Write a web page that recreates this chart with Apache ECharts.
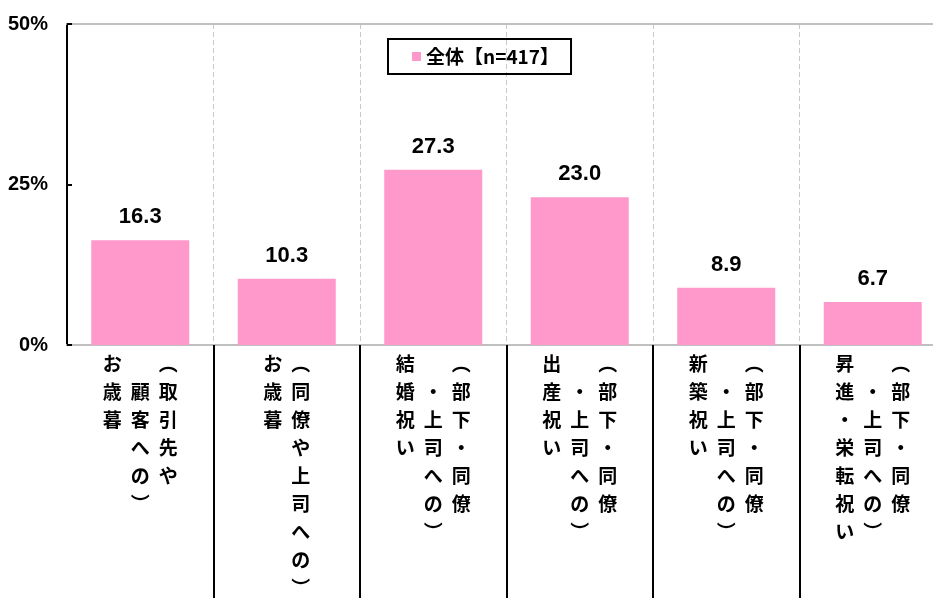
<!DOCTYPE html>
<html>
<head>
<meta charset="utf-8">
<script src="https://cdn.jsdelivr.net/npm/echarts@6/dist/echarts.min.js"></script>
<style>
  html, body { margin: 0; padding: 0; background: #fff; }
  #chart { width: 933px; height: 598px; }
</style>
</head>
<body>
<div id="chart"></div>
<script>
// カテゴリ
const categories = [
  'お歳暮（取引先や顧客への）',
  'お歳暮（同僚や上司への）',
  '結婚祝い（部下・同僚・上司への）',
  '出産祝い（部下・同僚・上司への）',
  '新築祝い（部下・同僚・上司への）',
  '昇進・栄転祝い（部下・同僚・上司への）'
];
// 縦書きラベルの列（左→右）
const labelColumns = [
  ['お歳暮', '　顧客への︶', '︵取引先や'],
  ['お歳暮', '︵同僚や上司への︶'],
  ['結婚祝い', '　・上司への︶', '︵部下・同僚'],
  ['出産祝い', '　・上司への︶', '︵部下・同僚'],
  ['新築祝い', '　・上司への︶', '︵部下・同僚'],
  ['昇進・栄転祝い', '　・上司への︶', '︵部下・同僚']
];
const seriesName = '全体【n=417】';
const values = [16.3, 10.3, 27.3, 23.0, 8.9, 6.7];
const yTicks = [0, 25, 50];

const chart = echarts.init(document.getElementById('chart'));

// 縦書き風のリッチテキストを作る
const verticalLabel = (idx) => {
  const cols = labelColumns[idx].map(s => Array.from(s));
  const rows = Math.max(...cols.map(c => c.length));
  const lines = [];
  for (let r = 0; r < rows; r++) {
    lines.push(cols.map(c => '{c|' + (c[r] || '　') + '}').join(''));
  }
  return lines.join('\n');
};

const option = {
  animation: false,
  backgroundColor: '#fff',
  legend: {
    left: 388,
    top: 39,
    padding: [8, 12, 8, 24],
    borderColor: '#000',
    borderWidth: 2,
    borderRadius: 0,
    icon: 'rect',
    itemWidth: 9,
    itemHeight: 9,
    textStyle: {
      fontSize: 19,
      fontWeight: 'bold',
      color: '#000',
      fontFamily: 'Noto Sans CJK JP'
    },
    data: [seriesName]
  },
  // 右端は画面外まで伸びる
  grid: {
    left: 67,
    top: 24,
    width: 879,
    bottom: 253,
    outerBoundsMode: 'none'
  },
  xAxis: [
    {
      type: 'category',
      data: categories,
      axisLine: { lineStyle: { color: '#c0c0c0', width: 2 } },
      axisTick: {
        show: true,
        interval: (i) => i !== 0,
        length: 260,
        lineStyle: { color: '#000', width: 2 }
      },
      splitLine: {
        show: true,
        interval: (i) => i !== 0,
        lineStyle: { color: '#c8c8c8', width: 1, type: [5, 3] }
      },
      axisLabel: {
        interval: 0,
        margin: 5,
        formatter: (v, i) => verticalLabel(i),
        rich: {
          c: {
            width: 28,
            align: 'center',
            lineHeight: 28,
            fontSize: 19,
            fontWeight: 'bold',
            color: '#000',
            fontFamily: 'Noto Sans CJK JP'
          }
        }
      }
    },
    {
      type: 'category',
      position: 'top',
      data: categories,
      axisLine: { lineStyle: { color: '#c0c0c0', width: 2 } },
      axisTick: { show: false },
      axisLabel: { show: false },
      splitLine: { show: false }
    }
  ],
  yAxis: {
    type: 'value',
    min: yTicks[0],
    max: yTicks[yTicks.length - 1],
    interval: 25,
    axisLine: { show: true, lineStyle: { color: '#000', width: 2 } },
    axisTick: { show: true, inside: true, length: 5, lineStyle: { color: '#000', width: 2 } },
    splitLine: { show: false },
    axisLabel: {
      margin: 19,
      formatter: '{value}%',
      fontSize: 20,
      fontWeight: 'bold',
      color: '#000',
      fontFamily: 'Liberation Sans'
    }
  },
  series: [
    {
      name: seriesName,
      type: 'bar',
      data: values,
      barWidth: 98,
      itemStyle: { color: '#ff99cc' },
      label: {
        show: true,
        position: 'top',
        distance: 12,
        formatter: (p) => p.value.toFixed(1),
        fontSize: 22,
        fontWeight: 'bold',
        color: '#000',
        fontFamily: 'Liberation Sans'
      }
    }
  ]
};

chart.setOption(option);
</script>
</body>
</html>
